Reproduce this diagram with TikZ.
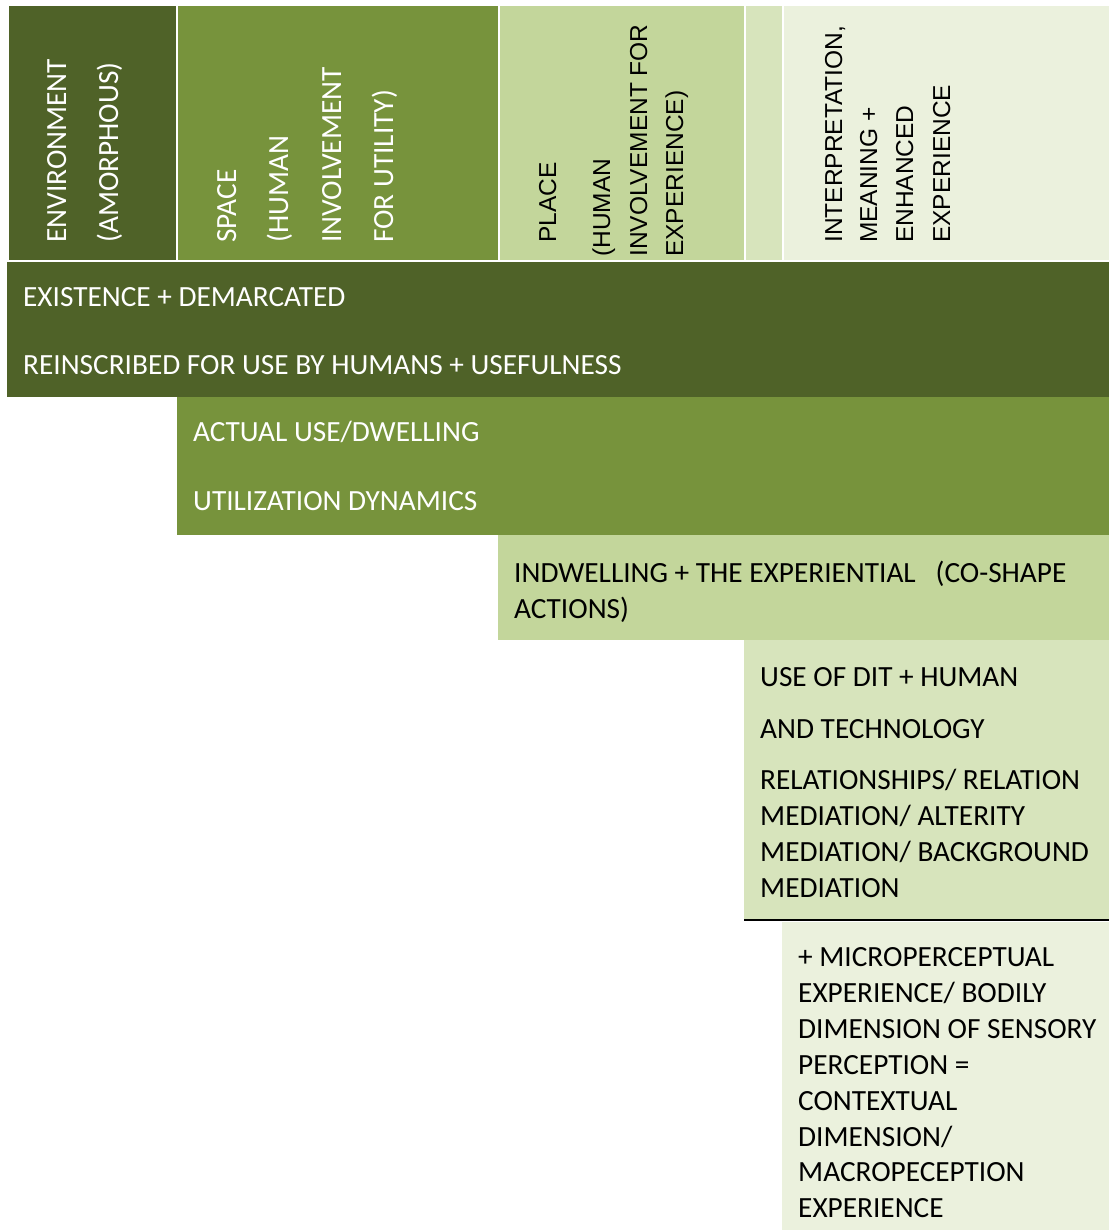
\documentclass[tikz,border=0pt]{standalone}
\usepackage{fontspec}
\setmainfont{Carlito}
\newfontfamily\arialfont{Liberation Sans}
\usetikzlibrary{positioning}
\definecolor{olivedark}{HTML}{4F6228}
\definecolor{olivemid}{HTML}{77933C}
\definecolor{olivelight}{HTML}{C3D69B}
\definecolor{olivepale}{HTML}{D7E4BC}
\definecolor{olivefaint}{HTML}{EBF1DD}

\begin{document}
\begin{tikzpicture}[x=1pt,y=-1pt,every node/.style={inner sep=0pt},
    row text/.style={anchor=base west,font=\fontsize{29.3}{35}\selectfont},
    head text/.style={anchor=base west,rotate=90,text=white,font=\fontsize{29.3}{35}\selectfont},
    head arial/.style={anchor=base west,rotate=90,font=\arialfont\fontsize{24.5}{30}\selectfont}]
    \useasboundingbox (0,0) rectangle (1109,1230);

    % header columns
    \fill[olivedark]  (9,6)   rectangle (176,260);
    \fill[olivemid]   (178,6) rectangle (498,260);
    \fill[olivelight] (500,6) rectangle (744,260);
    \fill[olivepale]  (746,6) rectangle (782,260);
    \fill[olivefaint] (784,6) rectangle (1109,260);

    % stepped rows
    \fill[olivedark]  (7,262)   rectangle (1109,397);
    \fill[olivemid]   (177,397) rectangle (1109,535);
    \fill[olivelight] (498,535) rectangle (1109,640);
    \fill[olivepale]  (744,640) rectangle (1109,920);
    \draw[line width=1.5pt] (744,920) -- (1109,920);
    \fill[olivefaint] (782,922) rectangle (1109,1230);

    % header labels
    \node[head text] (env)  at (66,243)  {ENVIRONMENT};
    \node[head text] (amor) at (118,243) {(AMORPHOUS)};
    \node[head text] (space)  at (236,243) {SPACE};
    \node[head text] (spc2)   at (288,243) {(HUMAN};
    \node[head text] (spc3)   at (341,243) {INVOLVEMENT};
    \node[head text] (spc4)   at (393,243) {FOR UTILITY)};
    \node[head arial] (place) at (556,243) {PLACE};
    \node[head arial] (plc2)  at (610,257) {(HUMAN};
    \node[head arial] (plc3)  at (647,257) {INVOLVEMENT FOR};
    \node[head arial] (plc4)  at (683,257) {EXPERIENCE)};
    \node[head arial] (interp) at (842,243) {INTERPRETATION,};
    \node[head arial] (int2)   at (877,243) {MEANING +};
    \node[head arial] (int3)   at (913,243) {ENHANCED};
    \node[head arial] (int4)   at (950,243) {EXPERIENCE};

    % row labels
    \node[row text,text=white] (exist)   at (23,306) {EXISTENCE + DEMARCATED};
    \node[row text,text=white] (reinscr) at (23,374) {REINSCRIBED FOR USE BY HUMANS + USEFULNESS};
    \node[row text,text=white] (actual)  at (193,441) {ACTUAL USE/DWELLING};
    \node[row text,text=white] (util)    at (193,510) {UTILIZATION DYNAMICS};
    \node[row text] (indw)    at (514,582) {INDWELLING + THE EXPERIENTIAL\ \ \ (CO-SHAPE};
    \node[row text] (actions) at (514,618) {ACTIONS)};

    \foreach \yy/\txt [count=\i] in {686/{USE OF DIT + HUMAN}, 738/{AND TECHNOLOGY},
        789/{RELATIONSHIPS/ RELATION}, 825/{MEDIATION/ ALTERITY},
        861/{MEDIATION/ BACKGROUND}, 897/{MEDIATION}}
        \node[row text] (dit\i) at (760,\yy) {\txt};

    \foreach \yy/\txt [count=\i] in {966/{+ MICROPERCEPTUAL}, 1002/{EXPERIENCE/ BODILY},
        1038/{DIMENSION OF SENSORY}, 1074/{PERCEPTION =}, 1110/{CONTEXTUAL},
        1146/{DIMENSION/}, 1181/{MACROPECEPTION}, 1217/{EXPERIENCE}}
        \node[row text] (micro\i) at (798,\yy) {\txt};
\end{tikzpicture}
\end{document}
